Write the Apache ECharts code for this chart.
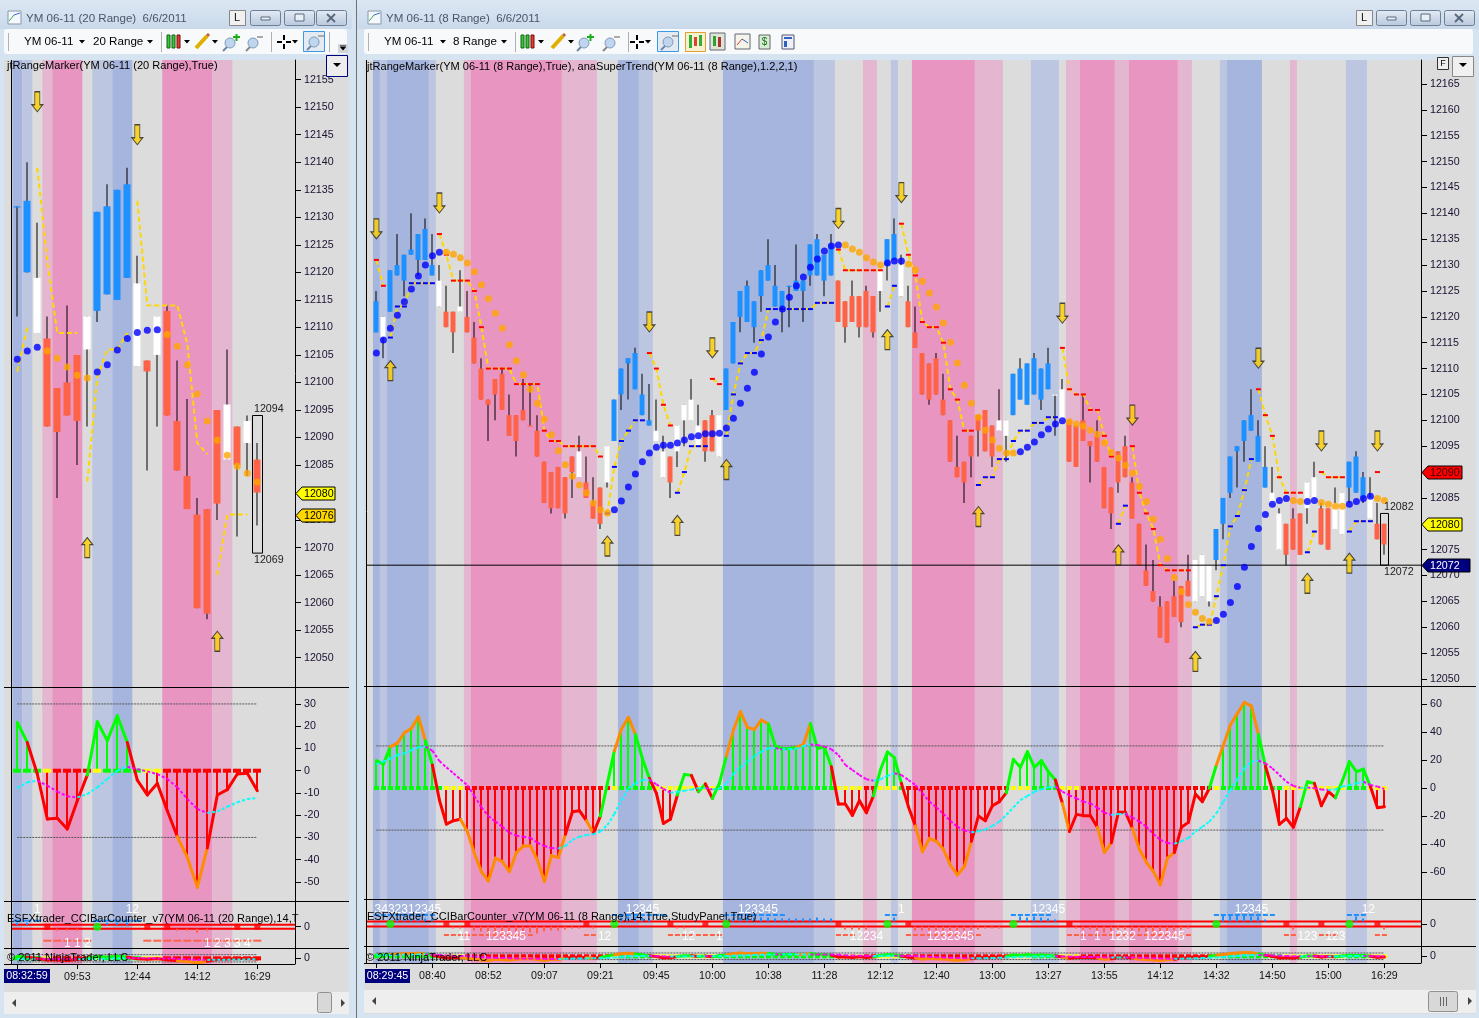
<!DOCTYPE html>
<html><head><meta charset="utf-8">
<style>html,body{margin:0;padding:0;background:#D6E4F2}#c{width:1479px;height:1018px}</style>
<script src="https://cdn.jsdelivr.net/npm/echarts@6/dist/echarts.min.js"></script>
</head><body><div id="c"></div>
<script>
/* ===== RIGHT CHART DATA (YM 06-11, 8 Range) ===== */
const rightTimeLabels=['08:29:45','08:40','08:52','09:07','09:21','09:45','10:00','10:38','11:28','12:12','12:40','13:00','13:27','13:55','14:12','14:32','14:50','15:00','16:29'];
const rightPriceTicks=[12050,12055,12060,12065,12070,12075,12080,12085,12090,12095,12100,12105,12110,12115,12120,12125,12130,12135,12140,12145,12150,12155,12160,12165];
const rightCciTicks=[-60,-40,-20,0,20,40,60];
const rightTop=[12123,12120,12129,12130,12132,12133,12136,12137,12130,12127,12121,12121,12122,12120,12116,12110,12104,12108,12109,12101,12101,12102,12099,12098,12092,12090,12091,12089,12093,12094,12088,12084,12087,12095,12104,12110,12112,12113,12105,12100,12098,12094,12093,12099,12103,12104,12099,12100,12101,12101,12110,12119,12125,12126,12123,12129,12130,12126,12125,12126,12127,12127,12134,12135,12132,12134,12127,12123,12124,12124,12125,12124,12129,12135,12136,12130,12123,12117,12113,12111,12112,12104,12100,12091,12092,12097,12101,12102,12099,12100,12100,12109,12110,12111,12112,12110,12111,12105,12106,12100,12099,12100,12096,12097,12091,12087,12094,12095,12088,12080,12071,12067,12064,12065,12066,12068,12069,12073,12074,12072,12079,12085,12093,12095,12100,12101,12097,12091,12086,12082,12080,12081,12082,12088,12089,12083,12083,12084,12086,12092,12093,12089,12085,12080,12080];
const rightBottom=[12117,12116,12121,12128,12127,12132,12131,12131,12128,12122,12118,12117,12121,12117,12111,12104,12103,12105,12102,12097,12096,12100,12099,12093,12084,12083,12083,12082,12090,12089,12085,12081,12080,12088,12096,12105,12111,12106,12101,12099,12096,12089,12088,12094,12100,12100,12095,12094,12094,12093,12102,12111,12120,12119,12118,12124,12127,12122,12122,12126,12125,12125,12128,12128,12127,12128,12119,12118,12119,12118,12118,12117,12125,12130,12131,12124,12118,12114,12105,12104,12105,12101,12092,12089,12088,12093,12098,12094,12093,12098,12097,12101,12104,12103,12105,12104,12106,12105,12100,12092,12091,12096,12095,12092,12083,12082,12088,12089,12081,12072,12068,12065,12058,12057,12062,12061,12066,12065,12066,12065,12073,12080,12086,12094,12096,12098,12092,12087,12084,12075,12074,12075,12074,12083,12084,12076,12075,12079,12078,12087,12086,12085,12081,12077,12076];
const rightHigh=[12125,12120,12129,12136,12132,12140,12136,12139,12136,12130,12126,12121,12129,12125,12119,12112,12104,12108,12110,12105,12101,12108,12107,12101,12092,12090,12091,12089,12093,12097,12093,12089,12087,12095,12104,12110,12112,12114,12109,12107,12104,12097,12093,12099,12103,12108,12103,12100,12102,12101,12110,12119,12125,12127,12123,12129,12135,12130,12125,12126,12134,12127,12134,12136,12132,12136,12127,12123,12127,12124,12126,12124,12129,12135,12139,12132,12126,12122,12113,12111,12113,12109,12100,12097,12092,12097,12101,12102,12099,12106,12100,12109,12112,12111,12113,12110,12114,12105,12108,12100,12099,12105,12096,12100,12091,12087,12094,12097,12089,12080,12076,12073,12066,12065,12069,12068,12074,12073,12074,12072,12079,12085,12093,12095,12100,12106,12100,12095,12091,12083,12080,12083,12082,12088,12092,12084,12083,12087,12086,12092,12094,12090,12089,12084,12080];
const rightLow=[12117,12112,12121,12128,12124,12132,12128,12131,12128,12122,12118,12113,12121,12117,12111,12104,12096,12100,12102,12097,12093,12100,12099,12093,12084,12082,12083,12081,12085,12089,12085,12081,12079,12087,12096,12102,12104,12106,12101,12099,12096,12089,12085,12091,12095,12100,12095,12092,12094,12093,12102,12111,12117,12119,12115,12121,12127,12122,12117,12118,12125,12119,12126,12128,12124,12128,12119,12115,12119,12116,12118,12116,12121,12127,12131,12124,12118,12114,12105,12103,12105,12101,12092,12089,12084,12089,12093,12094,12091,12098,12092,12101,12104,12103,12105,12102,12106,12097,12100,12092,12091,12096,12088,12092,12083,12079,12086,12089,12081,12072,12068,12065,12058,12057,12062,12060,12066,12065,12066,12064,12071,12077,12085,12087,12092,12098,12092,12087,12084,12075,12072,12075,12074,12080,12084,12076,12075,12079,12078,12084,12086,12084,12081,12077,12074];
const rightKindRuns=[[0,0,'b'],[1,1,'w'],[2,8,'b'],[9,9,'w'],[10,11,'o'],[12,12,'w'],[13,28,'o'],[29,29,'w'],[30,32,'o'],[33,33,'w'],[34,39,'b'],[40,41,'w'],[42,42,'o'],[43,46,'w'],[47,48,'o'],[49,49,'w'],[50,65,'b'],[66,71,'o'],[72,72,'w'],[73,74,'b'],[75,75,'w'],[76,88,'o'],[89,90,'w'],[91,96,'b'],[97,98,'w'],[99,116,'o'],[117,119,'w'],[120,127,'b'],[128,129,'w'],[130,132,'o'],[133,134,'w'],[135,136,'o'],[137,138,'w'],[139,141,'b'],[142,142,'w'],[143,144,'o']];
const rightDots=[12113,12115.5,12117.8,12120.3,12122.9,12125.4,12127.9,12130,12131.8,12132.5,12132.5,12132.1,12131.4,12130.4,12128.7,12126.2,12123.5,12120.7,12117.8,12114.6,12111.5,12108.8,12106,12103.3,12100.2,12097.2,12094.1,12091.4,12089.2,12087.5,12086,12084,12082.7,12082.1,12082.7,12084.4,12087.1,12089.6,12092,12093.7,12094.8,12095.2,12095.2,12095.6,12096.2,12096.8,12097,12097.4,12097.4,12097.5,12098.5,12100.4,12103.3,12106.2,12109.3,12112.8,12116.1,12119,12121.5,12123.8,12126,12127.7,12129.6,12131.2,12132.7,12133.7,12133.9,12133.9,12133.1,12132.5,12131.4,12130.6,12130,12130.4,12130.8,12130.8,12130.2,12129.1,12126.9,12124.6,12121.9,12118.8,12115.1,12111.1,12106.8,12103.3,12100.6,12098.1,12096.2,12094.6,12093.7,12093.7,12093.9,12094.8,12095.8,12097.2,12098.3,12099.3,12099.9,12099.7,12099.3,12098.9,12098.1,12097.3,12095.6,12093.8,12092.7,12091.3,12089.8,12087.2,12084.3,12080.9,12077,12073.3,12069.6,12066.9,12064.4,12062.9,12061.7,12061.1,12061.3,12062.5,12064.8,12067.9,12071.6,12075.6,12079.1,12081.8,12083.8,12084.5,12084.9,12084.5,12084.3,12084.3,12084.5,12084.1,12083.8,12083.4,12083.4,12083.8,12084.3,12084.9,12085.3,12084.9,12084.5];
const rightDotOrangeRuns=[[10,33],[67,72],[76,91],[99,119],[131,132],[135,138],[143,144]];
const rightResistance=[[0,[12131,12126]],[9,[12136,12132,12127,12127,12127,12125,12118,12110,12110,12110,12110,12107,12107,12107,12107,12098,12096,12096,12095,12095,12095,12095,12095,12093]],[39,[12113,12110,12103,12099]],[48,[12108,12107]],[66,[12133,12129,12129,12129,12129,12129,12129]],[75,[12138,12132,12128,12119,12118,12118,12115,12106,12104,12098,12098]],[98,[12114,12106,12105,12105,12102,12102,12097,12093]],[108,[12095,12086,12082,12079,12072,12071,12071,12071,12071]],[126,[12106,12101,12097,12089,12086,12086,12086]],[135,[12090,12089,12089,12089]],[143,[12090]]];
const rightSupport=[[2,[12116,12122,12122,12126.5,12126.5,12126.5,12126.5]],[33,[12082,12091,12096,12098,12100,12100]],[43,[12086,12090,12095,12095,12095]],[50,[12097,12105,12111,12113,12113,12115.5,12121.5,12121.5,12121.5,12121.5,12121.5,12121.5,12121.5,12122.7,12122.7,12122.7]],[73,[12122,12126]],[86,[12087.5,12089,12089,12092.5,12092.5,12096,12098,12098,12099.5,12099.5,12100.6,12100.6]],[106,[12080,12083.5]],[117,[12060,12060.5,12060.5,12066,12072,12079.5,12081.5,12086.5,12092.5]],[133,[12074.5,12078.5]],[139,[12078.5,12080.5,12080.5,12080.5]]];
const rightArrowsDown=[[0,12137],[9,12142],[39,12119],[48,12114],[66,12139],[75,12144],[98,12120.7],[108,12101],[126,12112],[135,12096],[143,12096]];
const rightArrowsUp=[[2,12109.6],[33,12075.7],[43,12079.7],[50,12090.5],[73,12115.6],[86,12081.4],[106,12074],[117,12053.4],[133,12068.5],[139,12072.4]];
const rightBands=[[0,0,'B'],[1,1,'b'],[2,7,'B'],[8,8,'b'],[13,13,'p'],[14,26,'P'],[27,31,'p'],[35,37,'B'],[38,39,'b'],[50,62,'B'],[63,65,'b'],[70,71,'p'],[74,74,'b'],[77,85,'P'],[86,89,'p'],[94,97,'b'],[99,100,'p'],[101,105,'P'],[106,107,'p'],[108,114,'P'],[115,116,'p'],[121,121,'b'],[122,126,'B'],[131,131,'p'],[139,141,'b']];
const rightCci=[19.5,17,29.5,32,39.4,42.5,50.8,33.7,16.4,-8.6,-25.7,-23.3,-22.3,-31,-46.6,-59.6,-66.3,-50,-52.5,-59.6,-46,-41.3,-41.3,-51.3,-66.7,-48.2,-49.6,-33,-16.9,-16.2,-23.3,-32.3,-20,3.3,26.6,41.8,50.4,38.2,21,6.9,-3.8,-25.2,-22.3,-5,9.7,9,-2.6,2.9,-7.4,3.3,22.8,41.3,54.4,43.2,41.8,48.5,45.6,29.9,28,28,29,31,46,28.3,29,15.2,-11.4,-11.4,-19.5,-9,-17.6,-5.7,12.8,25.7,21.6,3.3,-13.3,-27,-45.4,-35.9,-38,-43.7,-54.9,-62,-56,-38,-20,-23.3,-12.6,-9.7,-3.3,20.4,14.7,25.9,14.7,19.5,11.6,5.7,-10.9,-31,-18.8,-19.7,-19.7,-28,-46,-39,-17.3,-17.3,-28.7,-43.7,-53,-59.6,-69,-50,-46,-28,-24.5,-4.3,-9.7,-0.2,16.4,30.6,44.9,53.2,61,58.4,38.2,15.7,-1.4,-25.9,-21.6,-28,-13.3,4.5,3.3,-12.6,-2.6,-6.9,5.2,18.8,11.6,13.5,1,-14,-13.3];
const rightCciAvg=[17,18.8,21,23.5,24.7,27,29,29.5,26.6,19.2,14.7,10.5,6.2,2,-5.7,-13.8,-20,-24,-27.6,-31.8,-34,-34.7,-35.6,-39,-41.3,-42.8,-43.2,-41.3,-37,-34.7,-33.5,-33,-31,-26.4,-18.5,-8.6,-0.2,3.3,5.7,5.8,2.6,-0.7,-3.3,-2.9,-1.9,-1,-0.2,-0.1,-1,-0.5,3.3,10,14.7,18.8,22.8,25.9,28.3,28.4,27.6,27.7,28,29.9,31,30.6,29.5,27.6,23.5,16.4,12.8,9.3,6.2,5.2,6.2,8.6,10.5,9.3,5.7,2.1,-3.8,-9.7,-13.8,-18.5,-23.5,-27.6,-30.2,-31.6,-30.9,-29.5,-27,-24,-19.2,-13.8,-8.6,-5.7,-2.6,-1,0.5,1,-2.6,-5.2,-7.4,-9.7,-11,-14,-17.6,-19.2,-18.5,-18.4,-21,-24,-27.6,-32.8,-37,-39.2,-39.7,-38,-35.6,-31,-27.6,-24,-18,-9.7,-1.4,6.2,14,18.8,19.5,17.6,14,9.3,4.5,1.4,0.2,0.3,-0.2,-1,-1.4,-1,1,2.1,3.3,4.5,2.1,1,-0.7];
const rightNoStem=[9,33,40,43,44,45,46,47,48,49,50,66,72,75,91,98,119,120,128,132,133,134,135,136,137,138,142];
const rightZero=[[0,9,'g'],[10,12,'y'],[13,33,'r'],[34,34,'y'],[35,39,'g'],[40,48,'y'],[49,65,'g'],[66,69,'y'],[70,71,'r'],[72,74,'y'],[75,75,'g'],[76,90,'r'],[91,93,'y'],[94,97,'g'],[98,100,'y'],[101,119,'r'],[120,120,'y'],[121,129,'g'],[130,138,'y'],[139,141,'g'],[142,144,'y']];
const rightCountSquares=[10,13,30,42,47,66,76,99,130,135,143];
const rightCountCircles=[2,34,50,73,91,120,139];
const rightCountUp=[[3,[3,3,3,3,3,3]],[35,[4,5,5,4,3]],[51,[3,4,4,4,4,4,3,3,3,3,3,3,4,3,3]],[74,[4]],[92,[5,4,5,4,3,2]],[121,[7,7,7,7,5,5,2]],[140,[5,3]]];
const rightCountDown=[[11,[2,2]],[14,[4,5,7,7,6,5,5,5,6,7,5,4,4,3,2,2]],[31,[2]],[43,[2,2]],[67,[3,3,3,3]],[77,[4,4,4,4,4,4,4,4,3,3,2,2,2]],[100,[2,3,3,4,6,5,3,3,4,5,6,7,5,5,4,3,2]],[131,[3]],[144,[3]]];
const rightDashUp=[[0,8],[34,41],[50,58],[73,74],[91,96],[120,128],[139,141]];
const rightDashDown=[[10,22],[30,31],[42,49],[66,68],[76,86],[99,116],[130,131],[135,137],[143,144]];
const rightCountTop=[[4.5,'3432312345'],[38,'12345'],[54.5,'123345'],[75,'1'],[96,'12345'],[125,'12345'],[141.7,'12']];
const rightCountBottom=[[12.5,'11'],[18.5,'123345'],[32.6,'12'],[44.6,'12'],[49,'1'],[70,'12234'],[82,'1232345'],[101,'1'],[103,'1'],[106.6,'1232'],[112.6,'122345'],[133,'123'],[137,'123']];
const rightTags=[[12090,'12090','#FF0000','#400000',40],[12080,'12080','#FFFF00','#000',40],[12072,'12072','#000080','#FFF',48]];
const rightRangeBox=[144,12082,12072];
const rightLine=12072;

/* ===== LEFT CHART DATA (YM 06-11, 20 Range) ===== */
const leftTimeLabels=['08:32:59','09:53','12:44','14:12','16:29'];
const leftPriceTicks=[12050,12055,12060,12065,12070,12075,12085,12090,12095,12100,12105,12110,12115,12120,12125,12130,12135,12140,12145,12150,12155];
const leftCciTicks=[-50,-40,-30,-20,-10,0,10,20,30];
const leftTop=[12132,12133,12119,12108,12099,12100,12105,12112,12131,12132,12135,12136,12118,12104,12112,12113,12093,12083,12076,12077,12095,12096,12092,12093,12086];
const leftBottom=[12132,12120,12109,12092,12091,12094,12093,12106,12113,12116,12115,12119,12103,12102,12105,12094,12084,12077,12059,12058,12078,12086,12085,12089,12080];
const leftHigh=[12132,12140,12129,12112,12099,12114,12105,12112,12131,12136,12135,12139,12123,12104,12112,12114,12104,12097,12079,12077,12095,12106,12092,12094,12089];
const leftLow=[12112,12120,12109,12092,12079,12094,12085,12092,12111,12116,12115,12119,12103,12084,12092,12094,12084,12077,12059,12057,12075,12086,12072,12083,12074];
const leftKindRuns=[[0,1,'b'],[2,2,'w'],[3,6,'o'],[7,7,'w'],[8,11,'b'],[12,12,'w'],[13,13,'o'],[14,14,'w'],[15,20,'o'],[21,21,'w'],[22,22,'o'],[23,23,'w'],[24,24,'o']];
const leftDots=[12104.2,12105.7,12106.4,12105.7,12104.4,12102.8,12101.3,12100.8,12101.9,12103.2,12105.9,12108,12109.1,12109.5,12109.6,12108.7,12106.6,12103.2,12097.9,12093,12089.5,12086.8,12084.8,12083.5,12081.9];
const leftDotOrangeRuns=[[3,7],[15,24]];
const leftResistance=[[2,[12139,12122,12109,12109,12109]],[12,[12133,12114,12114,12114,12114,12107,12089,12087]]];
const leftSupport=[[0,[12102,12110]],[7,[12082,12101,12106,12106,12109]],[20,[12065,12076,12076,12076]]];
const leftArrowsDown=[[2,12151],[12,12145]];
const leftArrowsUp=[[7,12070],[20,12053]];
const leftBands=[[0,0,'B'],[1,1,'b'],[3,3,'p'],[4,6,'P'],[8,9,'b'],[10,11,'B'],[15,19,'P'],[20,21,'p']];
const leftCci=[21.7,12.7,-1.5,-21.7,-21.4,-26.2,-13.5,-1.9,22,13.5,24.7,12.7,-4.2,-10.9,-5.7,-18,-29.6,-38.9,-52.4,-34.7,-10.9,-8.5,-1.5,-1.2,-9];
const leftCciAvg=[-7.8,-5.2,-4.5,-6.7,-9.4,-11.5,-12,-10.5,-7.5,-3.7,0,1.8,0.7,-0.3,-1.5,-3.7,-7.5,-12.7,-17.2,-19,-18.3,-16.2,-14.2,-12.7,-12.3];
const leftNoStem=[2,7,12];
const leftZero=[[0,2,'g'],[3,3,'y'],[4,7,'r'],[8,8,'y'],[9,12,'g'],[13,14,'y'],[15,24,'r']];
const leftCountSquares=[3,13,15,22,24];
const leftCountCircles=[8];
const leftCountUp=[[0,[2,2]],[9,[2,2,2]]];
const leftCountDown=[[4,[2,2,2]],[16,[2,2,4,2]]];
const leftDashUp=[[0,2],[8,12]];
const leftDashDown=[[3,7],[13,24]];
const leftCountTop=[[2,'1'],[11.5,'12']];
const leftCountBottom=[[6,'1 1 2'],[21,'1 2 3 3 4']];
const leftTags=[[12080,'12080','#FFFF00','#000',39],[12076,'12076','#FFD700','#000',39]];
const leftRangeBox=[24,12094,12069];

[rightTop,rightBottom,rightHigh,rightLow,rightDots,rightCci,rightCciAvg].forEach((a,k)=>{if(a.length!==145)throw new Error('right array '+k+' has '+a.length);});
[leftTop,leftBottom,leftHigh,leftLow,leftDots,leftCci,leftCciAvg].forEach((a,k)=>{if(a.length!==25)throw new Error('left array '+k+' has '+a.length);});

const FONT='"Liberation Sans",Arial,sans-serif';
const FS=10.67;
const BANDCOL={B:'#A6B5DD',b:'#BCC6E0',P:'#E995C2',p:'#E5B6CF'};
const ZEROCOL={g:'#00FF00',y:'#FFFF00',r:'#FF0000'};
const KINDCOL={b:'#1E90FF',o:'#FF6347',w:'#FFFFFF'};

function expand(segs,n){const a=new Array(n).fill(null);segs.forEach(([s,v])=>v.forEach((x,k)=>a[s+k]=x));return a;}
function inRuns(r,i){return r.some(([a,b])=>i>=a&&i<=b);}
function runLookup(r,i,dflt){const f=r.find(x=>i>=x[0]&&i<=x[1]);return f?f[2]:dflt;}
function cciColor(v){return v>30?'#FF8C00':v>0?'#00FF00':v>-30?'#FF0000':'#FF8C00';}

const grids=[],xAxes=[],yAxes=[],series=[];
function addGrid(L,T,R,B,xr,yr,xExtra,yExtra){
  const idx=grids.length;
  grids.push({left:L,top:T,width:R-L,height:B-T,containLabel:false});
  xAxes.push(Object.assign({type:'value',gridIndex:idx,min:xr[0],max:xr[1],show:false,scale:true,splitLine:{show:false}},xExtra||{}));
  yAxes.push(Object.assign({type:'value',gridIndex:idx,min:yr[0],max:yr[1],show:false,scale:true,splitLine:{show:false}},yExtra||{}));
  return idx;
}
function yTicks(vals){return {show:true,position:'right',axisLine:{show:true,onZero:false,lineStyle:{color:'#000',width:1}},
  axisTick:{show:true,length:6,customValues:vals,lineStyle:{color:'#000'}},
  axisLabel:{show:true,customValues:vals,margin:9,color:'#1B1030',fontFamily:FONT,fontSize:FS,formatter:v=>String(v)}};}

function buildChart(d,g){
  const n=d.top.length,xr=[(g.left-g.x0)/g.step,(g.right-g.x0)/g.step];
  const ax=(idx)=>({xAxisIndex:idx,yAxisIndex:idx});
  /* bands */
  const gb=addGrid(g.left,g.top,g.right,g.bottom,xr,[0,1]);
  series.push(Object.assign({type:'custom',silent:true,z:1,encode:{x:[0,1]},data:d.bands.map(b=>[b[0],b[1]]),
    renderItem:(p,api)=>{const a=api.coord([api.value(0)-.5,1]),c=api.coord([api.value(1)+.5,0]);
      return {type:'rect',shape:{x:a[0],y:a[1],width:c[0]-a[0],height:c[1]-a[1]},style:{fill:BANDCOL[d.bands[p.dataIndex][2]]}};}},ax(gb)));
  /* price panel */
  const pmin=g.priceAt(g.priceBottom),pmax=g.priceAt(g.top);
  const gp=addGrid(g.left,g.top,g.right,g.priceBottom,xr,[pmin,pmax],null,yTicks(d.priceTicks));
  series.push(Object.assign({type:'custom',silent:true,z:3,encode:{x:0,y:[1,2,3,4]},data:d.top.map((t,i)=>[i,t,d.bottom[i],d.high[i],d.low[i]]),
    renderItem:(p,api)=>{const i=api.value(0),X=Math.round(api.coord([i,d.top[i]])[0]);
      const T=api.coord([i,api.value(1)])[1],B=api.coord([i,api.value(2)])[1],H=api.coord([i,api.value(3)])[1],L=api.coord([i,api.value(4)])[1];
      const w=g.bodyW,k=runLookup(d.kindRuns,i,'o');
      return {type:'group',children:[
        {type:'rect',shape:{x:X-.5,y:H,width:1,height:L-H},style:{fill:'#000'}},
        {type:'rect',shape:{x:X-w/2,y:T,width:w,height:Math.max(B-T,1.2)},style:{fill:KINDCOL[k]}}]};}},ax(gp)));
  const lineS=(segs,mark)=>Object.assign({type:'line',z:4,silent:true,animation:false,connectNulls:false,showAllSymbol:true,
    symbol:g.markers?'rect':'none',symbolSize:[5,2],itemStyle:{color:mark},
    lineStyle:{color:'#FFD700',width:2,type:[5,3]},
    data:expand(segs,n).map((v,i)=>[i,v===null?'-':v])},ax(gp));
  series.push(lineS(d.resistance,'#FF0000'));
  series.push(lineS(d.support,'#0000FF'));
  series.push(Object.assign({type:'scatter',z:5,silent:true,symbol:'circle',symbolSize:g.dotSize,data:d.dots.map((v,i)=>({value:[i,v],itemStyle:{color:inRuns(d.dotOrange,i)?'#FFA500':'#0000FF'}}))},ax(gp)));
  const arrowD='path://M3,0 H8 V13 H11 L5.5,20 L0,13 H3 Z',arrowU='path://M3,20 H8 V7 H11 L5.5,0 L0,7 H3 Z';
  [[d.arrowsDown,arrowD],[d.arrowsUp,arrowU]].forEach(([a,s])=>series.push(Object.assign({type:'scatter',z:6,silent:true,symbol:s,symbolSize:[11,20],
    itemStyle:{color:'#FFD000',borderColor:'#222',borderWidth:1},data:a},ax(gp))));
  /* range box, tags, notes */
  series.push(Object.assign({type:'custom',silent:true,z:7,clip:false,encode:{x:0,y:[1,2]},data:[d.rangeBox],
    renderItem:(p,api)=>{const a=api.coord([api.value(0),api.value(1)]),c=api.coord([api.value(0),api.value(2)]);const w=g.bodyW+3;
      const X=Math.round(a[0])+.5-w/2;
      return {type:'group',children:[
        {type:'rect',shape:{x:X,y:a[1],width:w,height:c[1]-a[1]},style:{fill:'none',stroke:'#000',lineWidth:1}},
        {type:'text',style:{x:g.noteX,y:a[1]-6,text:String(api.value(1)),fill:'#222',font:FS+'px '+FONT,align:'left',verticalAlign:'middle'}},
        {type:'text',style:{x:g.noteX,y:c[1]+7,text:String(api.value(2)),fill:'#222',font:FS+'px '+FONT,align:'left',verticalAlign:'middle'}}]};}},ax(gp)));
  if(d.line){series.push(Object.assign({type:'line',z:3,silent:true,symbol:'none',lineStyle:{color:'#000',width:1},data:[[xr[0],d.line],[xr[1],d.line]]},ax(gp)));}
  series.push(Object.assign({type:'custom',silent:true,z:8,clip:false,encode:{y:0},data:d.tags.map(t=>[t[0]]),
    renderItem:(p,api)=>{const t=d.tags[p.dataIndex],Y=Math.round(api.coord([xr[1],api.value(0)])[1])+.5,X=g.right+1,w=t[4];
      return {type:'group',children:[
        {type:'polygon',shape:{points:[[X,Y],[X+6,Y-6.5],[X+w,Y-6.5],[X+w,Y+6.5],[X+6,Y+6.5]]},style:{fill:t[2],stroke:'#000',lineWidth:1}},
        {type:'text',style:{x:X+8,y:Y+.5,text:t[1],fill:t[3],font:FS+'px '+FONT,align:'left',verticalAlign:'middle'}}]};}},ax(gp)));
  /* CCI drawing helper */
  function cciSeries(gi,lw,opts){
    opts.levels.forEach(lv=>series.push(Object.assign({type:'line',z:3,silent:true,symbol:'none',lineStyle:{color:'#555',width:1,type:[2,1]},data:[[0,lv],[n-1,lv]]},ax(gi))));
    if(opts.stems){series.push(Object.assign({type:'custom',silent:true,z:4,encode:{x:0,y:1},data:d.cci.map((v,i)=>[i,v]).filter(r=>!d.noStem.includes(r[0])),
      renderItem:(p,api)=>{const a=api.coord([api.value(0),0]),c=api.coord([api.value(0),api.value(1)]);
        return {type:'line',shape:{x1:Math.round(a[0]),y1:a[1],x2:Math.round(a[0]),y2:c[1]},style:{stroke:api.value(1)>0?'#00FF00':'#FF0000',lineWidth:2}};}},ax(gi)));}
    series.push(Object.assign({type:'custom',silent:true,z:5,encode:{x:0,y:1},data:d.cci.map((v,i)=>[i,0]),
      renderItem:(p,api)=>{const a=api.coord([api.value(0),0]);
        return {type:'rect',shape:{x:Math.round(a[0]-g.zeroW/2),y:a[1]-2,width:g.zeroW,height:4},style:{fill:ZEROCOL[runLookup(d.zero,p.dataIndex,'g')]}};}},ax(gi)));
    series.push(Object.assign({type:'custom',silent:true,z:6,encode:{x:0,y:[1,2]},data:d.cci.slice(1).map((v,i)=>[i+1,d.cci[i],v]),
      renderItem:(p,api)=>{const i=api.value(0),a=api.coord([i-1,api.value(1)]),c=api.coord([i,api.value(2)]);
        return {type:'line',shape:{x1:a[0],y1:a[1],x2:c[0],y2:c[1]},style:{stroke:cciColor(api.value(2)),lineWidth:lw,lineCap:'round'}};}},ax(gi)));
    series.push(Object.assign({type:'custom',silent:true,z:7,encode:{x:0,y:[1,2]},data:d.avg.slice(1).map((v,i)=>[i+1,d.avg[i],v]),
      renderItem:(p,api)=>{const i=api.value(0),a=api.coord([i-1,api.value(1)]),c=api.coord([i,api.value(2)]);
        return {type:'line',shape:{x1:a[0],y1:a[1],x2:c[0],y2:c[1]},style:{stroke:api.value(2)>=api.value(1)?'#00FFFF':'#FF00FF',lineWidth:2,lineDash:[3,2]}};}},ax(gi)));
  }
  const gc=addGrid(g.left,g.priceBottom,g.right,g.cciBottom,xr,g.cciRange,null,yTicks(d.cciTicks));
  cciSeries(gc,3,{stems:true,levels:[30,-30]});
  /* counter panel */
  const gn=addGrid(g.left,g.cciBottom,g.right,g.countBottom,xr,g.countRange,null,yTicks([0]));
  const gap=g.countGap;
  [gap,-gap].forEach(v=>series.push(Object.assign({type:'line',z:4,silent:true,symbol:'none',lineStyle:{color:'#FF0000',width:2},data:[[xr[0],v],[xr[1],v]]},ax(gn))));
  const tickS=(segs,col,sgn)=>{const e=expand(segs,n).map((v,i)=>[i,v]).filter(r=>r[1]!==null);
    series.push(Object.assign({type:'custom',silent:true,z:5,encode:{x:0,y:1},data:e,
      renderItem:(p,api)=>{const a=api.coord([api.value(0),sgn*gap]),c=api.coord([api.value(0),sgn*(gap+api.value(1))]);
        return {type:'line',shape:{x1:Math.round(a[0]),y1:a[1],x2:Math.round(a[0]),y2:c[1]},style:{stroke:col,lineWidth:2}};}},ax(gn)));};
  tickS(d.countUp,'#1E90FF',1);tickS(d.countDown,'#FF6347',-1);
  const dashS=(runs,col,yv)=>{const data=[];runs.forEach(([a,b])=>{for(let i=a;i<=b;i++)data.push([i,yv]);});
    series.push(Object.assign({type:'custom',silent:true,z:5,encode:{x:0,y:1},data,
      renderItem:(p,api)=>{const a=api.coord([api.value(0),api.value(1)]);
        return {type:'rect',shape:{x:a[0]-g.dashW/2,y:a[1]-1,width:g.dashW,height:2},style:{fill:col}};}},ax(gn)));};
  dashS(d.dashUp,'#1E90FF',g.dashY[0]);dashS(d.dashDown,'#FF6347',g.dashY[1]);
  series.push(Object.assign({type:'scatter',z:6,silent:true,symbol:'rect',symbolSize:6,itemStyle:{color:'#FF0000'},data:d.squares.map(i=>[i,0])},ax(gn)));
  series.push(Object.assign({type:'scatter',z:6,silent:true,symbol:'circle',symbolSize:8,itemStyle:{color:'#00FF00'},data:d.circles.map(i=>[i,0])},ax(gn)));
  const txtS=(list,yv)=>series.push(Object.assign({type:'custom',silent:true,z:7,clip:false,encode:{x:0,y:1},data:list.map(t=>[t[0],yv]),
    renderItem:(p,api)=>{const a=api.coord([api.value(0),api.value(1)]);
      return {type:'text',style:{x:a[0],y:a[1],text:list[p.dataIndex][1],fill:'#FFF',font:'12px '+FONT,align:'center',verticalAlign:'middle'}};}},ax(gn)));
  txtS(d.countTop,g.textY[0]);txtS(d.countBottom,g.textY[1]);
  /* mini panel with the time axis */
  const tv=d.times.map((t,i)=>i*g.tickEvery);
  const gm=addGrid(g.left,g.countBottom,g.right,g.miniBottom,xr,g.miniRange,{show:true,position:'bottom',
    axisLine:{show:false,onZero:false},axisTick:{show:true,length:5,customValues:tv,lineStyle:{color:'#000'}},
    axisLabel:{show:true,customValues:tv,margin:8,color:'#111',fontFamily:FONT,fontSize:FS,
      formatter:v=>{const k=Math.round(v/g.tickEvery);return k===0?'':d.times[k];}}},yTicks([0]));
  cciSeries(gm,3,{stems:false,levels:g.miniLevels});
  series.push(Object.assign({type:'custom',silent:true,z:9,clip:false,encode:{x:0},data:[[0]],
    renderItem:(p,api)=>{const a=api.coord([0,0]);
      return {type:'group',children:[
        {type:'rect',shape:{x:g.boxX,y:969,width:g.boxW,height:14},style:{fill:'#00007E'}},
        {type:'text',style:{x:g.boxX+g.boxW/2,y:976.5,text:d.times[0],fill:'#FFF',font:FS+'px '+FONT,align:'center',verticalAlign:'middle'}}]};}},ax(gm)));
}

buildChart({top:leftTop,bottom:leftBottom,high:leftHigh,low:leftLow,kindRuns:leftKindRuns,dots:leftDots,dotOrange:leftDotOrangeRuns,resistance:leftResistance,support:leftSupport,
  arrowsDown:leftArrowsDown,arrowsUp:leftArrowsUp,bands:leftBands,cci:leftCci,avg:leftCciAvg,noStem:leftNoStem,zero:leftZero,squares:leftCountSquares,circles:leftCountCircles,
  countUp:leftCountUp,countDown:leftCountDown,dashUp:leftDashUp,dashDown:leftDashDown,countTop:leftCountTop,countBottom:leftCountBottom,tags:leftTags,rangeBox:leftRangeBox,
  priceTicks:leftPriceTicks,cciTicks:leftCciTicks,times:leftTimeLabels},
 {left:11,right:295,top:60,bottom:964,priceBottom:687,cciBottom:901,countBottom:948,miniBottom:964,x0:17.3,step:10,bodyW:7,dotSize:7,markers:false,zeroW:8,dashW:8,
  priceAt:y=>12155-(y-79.7)/5.505,cciRange:[(770.7-901)/2.225,(770.7-687)/2.225],countRange:[-21.3,25.7],countGap:2,dashY:[6,-14],textY:[17,-17],
  miniRange:[-(964-958.3)/.083,(958.3-948)/.083],miniLevels:[44,-44],tickEvery:6,boxX:4,boxW:46,noteX:254});
buildChart({top:rightTop,bottom:rightBottom,high:rightHigh,low:rightLow,kindRuns:rightKindRuns,dots:rightDots,dotOrange:rightDotOrangeRuns,resistance:rightResistance,support:rightSupport,
  arrowsDown:rightArrowsDown,arrowsUp:rightArrowsUp,bands:rightBands,cci:rightCci,avg:rightCciAvg,noStem:rightNoStem,zero:rightZero,squares:rightCountSquares,circles:rightCountCircles,
  countUp:rightCountUp,countDown:rightCountDown,dashUp:rightDashUp,dashDown:rightDashDown,countTop:rightCountTop,countBottom:rightCountBottom,tags:rightTags,rangeBox:rightRangeBox,line:rightLine,
  priceTicks:rightPriceTicks,cciTicks:rightCciTicks,times:rightTimeLabels},
 {left:366,right:1421,top:60,bottom:963,priceBottom:686,cciBottom:899,countBottom:946,miniBottom:963,x0:376.4,step:7,bodyW:5,dotSize:7,markers:true,zeroW:5,dashW:5,
  priceAt:y=>12165-(y-84)/5.174,cciRange:[(788-899)/1.403,(788-686)/1.403],countRange:[-22,25],countGap:2.4,dashY:[9,-11],textY:[14,-13],
  miniRange:[-(963-956.3)/.062,(956.3-946)/.062],miniLevels:[53,-53],tickEvery:8,boxX:365,boxW:45,noteX:1384});

/* ===== window chrome ===== */
const G=[];const Z=40;
const R=(x,y,w,h,fill,extra)=>G.push({type:'rect',silent:true,z:extra&&extra.z!==undefined?extra.z:Z,shape:{x,y,width:w,height:h,r:extra&&extra.r||0},style:{fill,stroke:extra&&extra.stroke||null,lineWidth:1}});
const LN=(x1,y1,x2,y2,c,w,z)=>G.push({type:'line',silent:true,z:z===undefined?Z:z,shape:{x1,y1,x2,y2},style:{stroke:c||'#000',lineWidth:w||1}});
const T=(x,y,s,f,c,a,z)=>G.push({type:'text',silent:true,z:z===undefined?Z:z,x,y,style:{text:s,font:f||('11.05px '+FONT),fill:c||'#000',align:a||'left',verticalAlign:'middle'}});
const TRI=(x,y,c)=>G.push({type:'polygon',silent:true,z:Z,shape:{points:[[x-3,y-2],[x+3,y-2],[x,y+1.5]]},style:{fill:c||'#000'}});
const CIR=(x,y,r,f,s)=>G.push({type:'circle',silent:true,z:Z,shape:{cx:x,cy:y,r},style:{fill:f,stroke:s||null,lineWidth:1}});
const tbar=()=>new echarts.graphic.LinearGradient(0,0,0,1,[{offset:0,color:'#DCE7F3'},{offset:1,color:'#C9D9EB'}]);
function btn(x,w){R(x+.5,10.5,w,15,new echarts.graphic.LinearGradient(0,0,0,1,[{offset:0,color:'#E4EBF4'},{offset:1,color:'#B9C8DD'}]),{stroke:'#6D7F97',r:2});}
function windowFrame(x0,x1,bodyL,bodyR,lL,lBottom,title,bx){
  R(x0,0,x1-x0,1018,'#D6E4F2',{z:-10});
  R(bodyL,60,bodyR-bodyL,954,'#DCDCDC',{z:-9});
  R(x0,0,x1-x0,29,tbar(),{z:-8});
  T(bodyL+22,18.5,title,'11.55px '+FONT,'#4A5568');
  R(bodyL+4,11,13,13,'#F4F8FC',{stroke:'#8899AA'});LN(bodyL+5,21,bodyL+10,15,'#3AA655',1);LN(bodyL+10,15,bodyL+16,13,'#3A6BD5',1);
  R(bx[0]+.5,10.5,16,15,'#F0F0F0',{stroke:'#888'});T(bx[0]+8,18,'L','11px '+FONT,'#111','center');
  btn(bx[1],30);R(bx[1]+11,17,9,3,'#E8EEF5',{stroke:'#596A80'});
  btn(bx[2],30);R(bx[2]+11,14,9,7,'#E8EEF5',{stroke:'#596A80'});
  btn(bx[3],30);LN(bx[3]+11,14,bx[3]+19,22,'#596A80',2);LN(bx[3]+19,14,bx[3]+11,22,'#596A80',2);
  R(bodyL,29,bodyR-bodyL-(bodyR>1000?3:2),25,'#F7F9FB',{r:3});
  LN(bodyL+4.5,33,bodyL+4.5,51,'#AAB4C0',1);
  const sbY=x0===0?992:990,sbH=x0===0?22:23;
  R(bodyL,sbY,bodyR-bodyL,sbH,'#EEEEEE');
  G.push({type:'polygon',silent:true,z:Z,shape:{points:[[bodyL+8,sbY+11],[bodyL+12,sbY+7],[bodyL+12,sbY+15]]},style:{fill:'#444'}});
  G.push({type:'polygon',silent:true,z:Z,shape:{points:[[bodyR-4,sbY+11],[bodyR-8,sbY+7],[bodyR-8,sbY+15]]},style:{fill:'#444'}});
  LN(lL+.5,60,lL+.5,lBottom,'#000',1);
}
function icons(c,p){
  const y=42;
  R(c+1,y-7,3,13,'#37C837',{stroke:'#156015'});R(c+6,y-7,3,13,'#37C837',{stroke:'#156015'});R(c+11,y-7,3,13,'#E83A2A',{stroke:'#701010'});
  TRI(c+21,y);
  LN(p,y+6,p+11,y-6,'#E0B000',4);LN(p+11,y-6,p+13,y-8,'#C06030',3);TRI(p+19,y);
}
function mag(x,y,col,plus){CIR(x,y+1,5,'#BFD6EE','#7F9BB8');LN(x-3,y+5,x-7,y+9,col==='g'?'#8A8A8A':'#6C88A8',2);
  if(plus){LN(x+3,y-5,x+10,y-5,'#18B018',2);LN(x+6.5,y-8,x+6.5,y-1,'#18B018',2);}else{LN(x+4,y-5,x+10,y-5,'#AAA',2);}}
function cross(x,y){LN(x-7,y,x-2,y,'#000',2);LN(x+2,y,x+7,y,'#000',2);LN(x,y-7,x,y-2,'#000',2);LN(x,y+2,x,y+7,'#000',2);}

windowFrame(0,352,4,349,11,964,'YM 06-11 (20 Range)  6/6/2011',[229,250,284,316]);
windowFrame(357,1479,364,1476,366,963,'YM 06-11 (8 Range)  6/6/2011',[1356,1376,1410,1444]);
LN(356.5,0,356.5,1018,'#707070',1,-7);

/* Left toolbar */
T(24,42,'YM 06-11','11.6px '+FONT,'#000');TRI(82,42);T(93,42,'20 Range','11.6px '+FONT,'#000');TRI(150,42);
LN(161.5,32,161.5,52,'#B0B0B0');icons(166,196);mag(230,42,'b',true);mag(253,42,'g',false);
LN(271.5,32,271.5,52,'#B0B0B0');cross(284,42);TRI(295,42);
R(303.5,31.5,21,20,'#E4EAF2',{stroke:'#3B9AE8'});mag(314,41,'b',false);LN(329.5,32,329.5,52,'#B0B0B0');
R(338,44,10,9,'#D2D6DC');LN(340,46,346,46,'#000',1);TRI(343,49);
/* Left dropdown */
R(326.5,55.5,21,21,'#EDEDED',{stroke:'#00007A'});
G.push({type:'polygon',silent:true,z:Z,shape:{points:[[333,63],[341,63],[337,67]]},style:{fill:'#000'}});
/* Right toolbar */
T(384,42,'YM 06-11','11.6px '+FONT,'#000');TRI(443,42);T(453,42,'8 Range','11.6px '+FONT,'#000');TRI(504,42);
LN(515.5,32,515.5,52,'#B0B0B0');icons(520,552);mag(584,42,'b',true);mag(610,42,'g',false);
LN(628.5,32,628.5,52,'#B0B0B0');cross(637,42);TRI(648,42);
R(657.5,31.5,21,20,'#E4EAF2',{stroke:'#3B9AE8'});mag(668,41,'b',false);
R(685.5,32.5,20,19,'#F4F0D0',{stroke:'#E0A030'});R(689,35,3,13,'#30B030');R(694,37,3,9,'#E04030');R(699,35,3,11,'#30B030');
R(710,33,15,17,'#DDE6D5',{stroke:'#667'});R(713,36,3,10,'#30A030');R(718,37,3,10,'#B03030');
R(735,34,15,15,'#F4F4E8',{stroke:'#667'});LN(737,45,742,39,'#D04040',1);LN(742,39,748,43,'#3060C0',1);
R(759,35,11,14,'#D8ECD8',{stroke:'#666'});T(764.5,42,'$','10px '+FONT,'#107010','center');
R(782,35,12,14,'#EEF2F8',{stroke:'#557'});R(784,37,8,2,'#3060C0');R(784,41,3,6,'#3060C0');
/* Right dropdown + F */
R(1437.5,57.5,11,12,'#EEE',{stroke:'#333'});T(1443,64,'F','9px '+FONT,'#000','center');
R(1452.5,56.5,21,20,'#F0F0F0',{stroke:'#888'});G.push({type:'polygon',silent:true,z:Z,shape:{points:[[1459,63],[1467,63],[1463,67]]},style:{fill:'#000'}});
/* Panel separators */
[687,901,948].forEach(y=>LN(4,y+.5,349,y+.5,'#000',1));LN(4,964.5,295,964.5,'#000',1);
[686,899,946].forEach(y=>LN(364,y+.5,1476,y+.5,'#000',1));LN(364,963.5,1421,963.5,'#000',1);
/* Scroll thumbs */
R(317.5,992.5,14,20,'#D8D8D8',{stroke:'#909090',r:2});
R(1428.5,991.5,29,20,'#D8D8D8',{stroke:'#909090',r:2});LN(1440.5,997,1440.5,1006,'#666');LN(1443.5,997,1443.5,1006,'#666');LN(1446.5,997,1446.5,1006,'#666');
/* Indicator captions */
T(7,66,'jtRangeMarker(YM 06-11 (20 Range),True)');
T(367,67,'jtRangeMarker(YM 06-11 (8 Range),True), anaSuperTrend(YM 06-11 (8 Range),1.2,2,1)');
T(7,919,'ESFXtrader_CCIBarCounter_v7(YM 06-11 (20 Range),14,T');
T(367,917,'ESFXtrader_CCIBarCounter_v7(YM 06-11 (8 Range),14,True,StudyPanel,True)');
T(7,958,'© 2011 NinjaTrader, LLC');
T(366,958,'© 2011 NinjaTrader, LLC');

const chart=echarts.init(document.getElementById('c'),null,{renderer:'canvas',width:1479,height:1018});
chart.setOption({animation:false,backgroundColor:'#D6E4F2',tooltip:{show:false},grid:grids,xAxis:xAxes,yAxis:yAxes,series,graphic:{elements:G}});
</script></body></html>
